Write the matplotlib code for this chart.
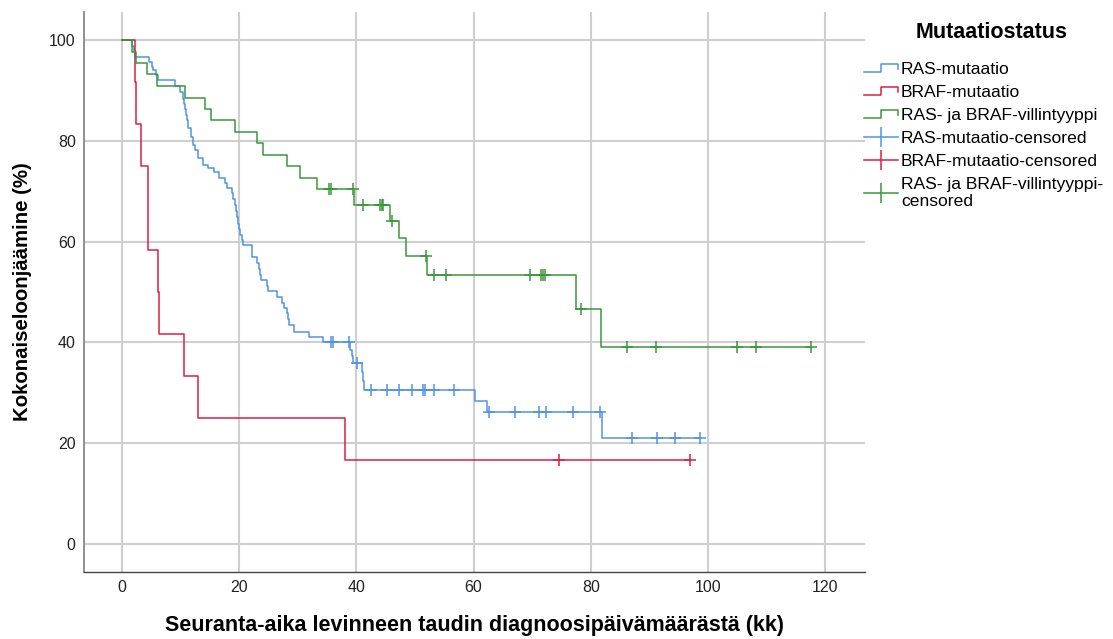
import matplotlib
matplotlib.use("Agg")
import matplotlib.pyplot as plt
from matplotlib.lines import Line2D
from matplotlib.legend_handler import HandlerBase
import numpy as np

plt.rcParams['font.family'] = ['Liberation Sans', 'DejaVu Sans']

# ---------------- data (months, survival %) ----------------
ras_times = [1.71, 1.96, 2.22, 4.66, 5.07, 5.34, 5.80, 6.20, 9.05, 9.92,
             10.36, 10.58, 10.75, 10.93, 11.15, 11.32, 11.73, 12.07, 12.46, 13.03,
             13.88, 14.73, 15.62, 16.61, 17.58, 17.87, 18.73, 18.95, 19.20, 19.46,
             19.63, 19.80, 19.97, 20.14, 20.40, 20.66, 22.14, 23.05, 23.30, 23.47,
             23.64, 24.70, 24.92, 26.41, 27.26, 27.65, 28.11, 28.34, 28.56, 29.36,
             31.97, 34.26, 38.92, 39.21, 39.48, 40.92, 41.05, 41.31, 60.26, 62.36,
             81.89]
ras_surv = [98.9, 97.8, 96.7, 95.7, 94.7, 94.0, 93.1, 92.1, 91.0, 89.7,
            88.4, 87.4, 86.4, 85.1, 84.1, 82.5, 80.8, 79.2, 78.2, 76.7,
            75.2, 74.7, 73.9, 72.7, 71.6, 70.6, 69.6, 68.5, 67.3, 66.0,
            64.8, 63.5, 62.5, 61.4, 60.3, 59.3, 57.0, 55.8, 54.5, 53.4,
            52.4, 51.2, 50.1, 49.1, 47.8, 46.8, 45.8, 44.6, 43.5, 42.1,
            41.1, 40.0, 38.5, 37.2, 35.9, 34.2, 32.4, 30.6, 28.4, 26.1,
            21.0]
ras_censored = [35.63, 35.97, 38.80, 40.07, 42.51, 45.19, 47.29, 49.45, 51.43, 51.72,
                53.31, 56.73, 62.6, 67.09, 71.24, 72.33, 77.04, 81.60, 87.11, 91.33,
                94.40, 98.67]

braf_times = [2.2, 2.4, 3.2, 4.4, 4.5, 6.2, 6.37, 10.58, 12.97, 38.07]
braf_surv = [91.7, 83.3, 75.0, 66.7, 58.3, 50.0, 41.7, 33.3, 25.0, 16.7]
braf_censored = [74.6, 96.9]

wt_times = [1.66, 2.39, 4.22, 5.92, 10.75, 14.17, 15.19, 19.29, 23.10, 24.02,
            28.22, 30.39, 33.34, 39.60, 45.8, 47.29, 48.48, 52.01, 77.50, 81.77]
wt_surv = [97.7, 95.5, 93.2, 90.9, 88.6, 86.4, 84.1, 81.8, 79.5, 77.3,
           75.0, 72.7, 70.5, 67.3, 64.1, 60.7, 57.2, 53.4, 46.7, 39.0]
wt_censored = [35.34, 35.68, 39.38, 41.19, 44.04, 44.33, 44.61, 46.09, 51.9, 53.31,
               55.31, 69.65, 71.47, 71.81, 72.21, 78.30, 86.26, 91.16, 104.93, 108.23,
               117.56]

group_labels = ["RAS-mutaatio", "BRAF-mutaatio", "RAS- ja BRAF-villintyyppi"]
censor_labels = ["RAS-mutaatio-censored", "BRAF-mutaatio-censored",
                 "RAS- ja BRAF-villintyyppi-\ncensored"]
colors = ["#4f93e4", "#dc1e46", "#3a973a"]

x_ticks = [0, 20, 40, 60, 80, 100, 120]
y_ticks = [0, 20, 40, 60, 80, 100]
x_label = "Seuranta-aika levinneen taudin diagnoosipäivämäärästä (kk)"
y_label = "Kokonaiseloonjäämine (%)"
legend_title = "Mutaatiostatus"


def surv_at(t, times, surv):
    val = 100.0
    for ti, si in zip(times, surv):
        if ti <= t:
            val = si
    return val


fig = plt.figure(figsize=(11.13, 6.39), dpi=100)
ax = fig.add_axes([84 / 1113, 1 - 572 / 639, (865 - 84) / 1113, (572 - 12) / 639])

groups = [(ras_times, ras_surv, ras_censored),
          (braf_times, braf_surv, braf_censored),
          (wt_times, wt_surv, wt_censored)]

for (times, surv, cens), col in zip(groups, colors):
    end = max(max(cens), max(times))
    xs = [0.0] + list(times) + [end]
    ys = [100.0] + list(surv) + [surv[-1]]
    ax.step(xs, ys, where='post', color=col, lw=1.1, zorder=3)
    cy = [surv_at(c, times, surv) for c in cens]
    ax.plot(cens, cy, linestyle='none', marker='+', markersize=8,
            markeredgewidth=1.1, color=col, zorder=4)

ax.set_xlim(-6.5, 126.8)
ax.set_ylim(-5.6, 105.6)
ax.set_xticks(x_ticks)
ax.set_yticks(y_ticks)
ax.tick_params(length=0, labelsize=11.5, colors='#222222', pad=6)
ax.grid(True, color='#cfcfcf', lw=1.5, zorder=0)
ax.set_axisbelow(True)
for s in ['top', 'right']:
    ax.spines[s].set_visible(False)
ax.spines['left'].set_color('#888888')
ax.spines['left'].set_linewidth(1.3)
ax.spines['bottom'].set_color('#444444')
ax.spines['bottom'].set_linewidth(1.0)

ax.set_xlabel(x_label, fontsize=15.5, fontweight='bold', labelpad=14)
ax.set_ylabel(y_label, fontsize=14.7, fontweight='bold', labelpad=12)


class StepHandler(HandlerBase):
    def create_artists(self, legend, orig_handle, xdescent, ydescent,
                       width, height, fontsize, trans):
        xs = [-xdescent + f * width for f in (0.0, 0.5, 0.5, 1.0, 1.0)]
        ys = [-ydescent + f * height for f in (0.2, 0.2, 0.85, 0.85, 0.45)]
        ln = Line2D(xs, ys, color=orig_handle.get_color(), lw=1.1)
        ln.set_transform(trans)
        return [ln]


step_handles = [Line2D([], [], color=c) for c in colors]
cens_handles = [Line2D([], [], color=c, lw=1.1, marker='|', markersize=15,
                       markeredgewidth=1.1) for c in colors]
handler_map = {h: StepHandler() for h in step_handles}

fig.text(992 / 1113, 1 - 33 / 639, legend_title, ha='center', va='center',
         fontsize=15.5, fontweight='bold')

leg = fig.legend(step_handles + cens_handles, group_labels + censor_labels,
                 handler_map=handler_map, loc='upper left',
                 bbox_to_anchor=(864 / 1113, 1 - 62 / 639), frameon=False,
                 fontsize=12.6, handlelength=1.95,
                 handletextpad=0.15, labelspacing=0.44, borderaxespad=0,
                 borderpad=0)

fig.savefig("out.png", dpi=100)
